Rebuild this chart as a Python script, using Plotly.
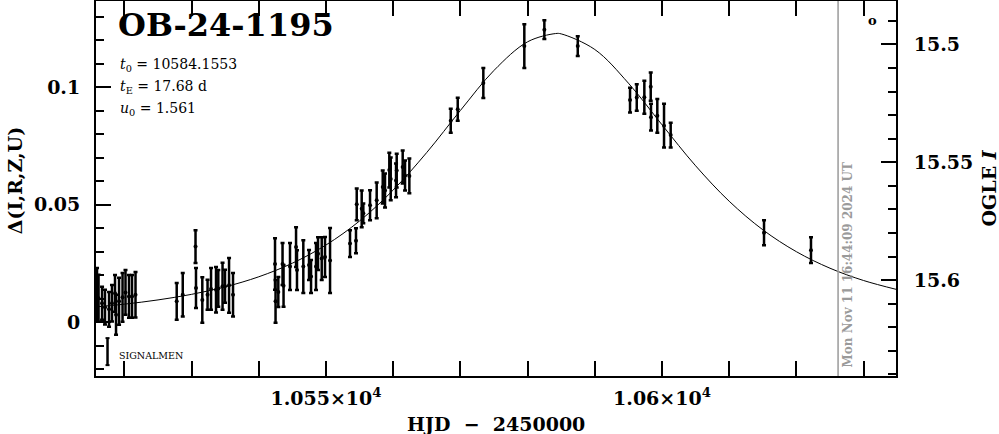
import plotly.graph_objects as go

# ---------------- data ----------------
hjd = [10515.92, 10516.15, 10516.67, 10517.11, 10517.71, 10518.15, 10518.60, 10518.75,
       10519.20, 10519.72, 10520.16, 10520.68, 10521.13, 10521.65,
       10527.78, 10528.68, 10530.58, 10530.65, 10531.59, 10532.37, 10532.89, 10533.63,
       10533.97, 10534.60, 10534.97, 10535.57, 10536.16,
       10542.41, 10542.49, 10542.90, 10543.53, 10543.68, 10544.64, 10545.54, 10545.68,
       10546.62, 10547.47, 10547.77, 10548.51, 10548.81, 10549.36, 10549.85, 10550.60,
       10553.57, 10554.46, 10554.57, 10555.31, 10555.55, 10556.55, 10557.54, 10558.44,
       10558.78, 10559.42, 10559.63, 10560.42, 10560.52, 10561.41, 10561.76, 10562.40,
       10568.56, 10569.60, 10573.41, 10579.51, 10582.49, 10587.46,
       10595.24, 10596.24, 10597.37, 10598.32, 10598.36, 10599.30, 10600.30, 10601.29,
       10615.18, 10622.17]
delta = [0.0121, 0.0102, 0.0081, 0.0064, 0.0055, 0.0081, 0.0123, 0.0032,
         0.0089, 0.0106, 0.0127, 0.0110, 0.0110, 0.0117,
         0.0089, 0.0117, 0.0322, 0.0146, 0.0095, 0.0117, 0.0142, 0.0138,
         0.0144, 0.0153, 0.0153, 0.0157, 0.0117,
         0.0248, 0.0089, 0.0129, 0.0248, 0.0155, 0.0237, 0.0320, 0.0222,
         0.0237, 0.0244, 0.0195, 0.0237, 0.0292, 0.0271, 0.0278, 0.0263,
         0.0335, 0.0347, 0.0502, 0.0483, 0.0464, 0.0498, 0.0519, 0.0576,
         0.0561, 0.0648, 0.0610, 0.0604, 0.0646, 0.0661, 0.0625, 0.0623,
         0.0858, 0.0907, 0.1019, 0.1176, 0.1246, 0.1176,
         0.0946, 0.0957, 0.0958, 0.1003, 0.0873, 0.0879, 0.0837, 0.0797,
         0.0381, 0.0307]
delta_err = [0.0110, 0.0100, 0.0070, 0.0074, 0.0074, 0.0078, 0.0078, 0.0085,
             0.0100, 0.0104, 0.0095, 0.0091, 0.0091, 0.0097,
             0.0078, 0.0093, 0.0070, 0.0085, 0.0097, 0.0064, 0.0089, 0.0097,
             0.0078, 0.0100, 0.0070, 0.0117, 0.0093,
             0.0110, 0.0091, 0.0064, 0.0089, 0.0089, 0.0100, 0.0085, 0.0085,
             0.0112, 0.0064, 0.0070, 0.0100, 0.0070, 0.0091, 0.0085, 0.0138,
             0.0057, 0.0053, 0.0068, 0.0078, 0.0042, 0.0064, 0.0076, 0.0070,
             0.0072, 0.0074, 0.0091, 0.0072, 0.0072, 0.0070, 0.0064, 0.0074,
             0.0051, 0.0049, 0.0064, 0.0093, 0.0040, 0.0042,
             0.0053, 0.0056, 0.0070, 0.0060, 0.0057, 0.0072, 0.0093, 0.0053,
             0.0053, 0.0055]

model_hjd = [10515, 10520, 10525, 10530, 10535, 10540, 10545, 10550, 10555, 10560,
             10565, 10570, 10575, 10580, 10584.16, 10585, 10590, 10595, 10600, 10605,
             10610, 10615, 10620, 10625, 10630, 10635]
model_delta = [0.00634, 0.00770, 0.00950, 0.01188, 0.01507, 0.01936, 0.02515, 0.03290,
               0.04314, 0.05630, 0.07232, 0.09019, 0.10725, 0.11943, 0.12294, 0.12279,
               0.11614, 0.10181, 0.08408, 0.06662, 0.05152, 0.03937, 0.03003, 0.02300,
               0.01776, 0.01389]

x_ticks = [10550, 10600]
x_ticktext = ["1.055×10<sup>4</sup>", "1.06×10<sup>4</sup>"]
y_ticks = [0, 0.05, 0.1]
y_ticktext = ["0", "0.05", "0.1"]
mag_ticks = [15.5, 15.55, 15.6]
mag_ticktext = ["15.5", "15.55", "15.6"]

x_title = "HJD\u00a0\u00a0−\u00a0\u00a02450000"
y_title = "Δ(I,R,Z,U)"
mag_title = "OGLE <i>I</i>"
event_name = "OB-24-1195"
param_lines = ["<i>t</i><sub>0</sub> = 10584.1553",
               "<i>t</i><sub>E</sub> = 17.68 d",
               "<i>u</i><sub>0</sub> = 1.561"]
legend_label = "SIGNALMEN"
now_hjd = 10626.2
now_label = "Mon Nov 11 16:44:09 2024 UT"

x_range = [10515.77, 10634.82]
y_range = [-0.0229, 0.1368]
mag_range = [15.6407, 15.4816]

# ---------------- figure ----------------
SERIF = "DejaVu Serif"
fig = go.Figure()

fig.add_trace(go.Scatter(
    x=model_hjd, y=model_delta, mode="lines", line=dict(color="black", width=1, shape="spline"),
    hoverinfo="skip", showlegend=False))

fig.add_trace(go.Scatter(
    x=hjd, y=delta, mode="markers",
    marker=dict(color="black", size=4),
    error_y=dict(type="data", array=delta_err, visible=True, color="black", thickness=2.5, width=2),
    showlegend=False, name=legend_label))

# invisible trace to anchor the right-hand magnitude axis
fig.add_trace(go.Scatter(x=[], y=[], yaxis="y2", showlegend=False))

fig.add_vline(x=now_hjd, line=dict(color="#9a9a9a", width=1.5))

axis_font = dict(family=SERIF, size=19, color="black", weight="bold")
tick_common = dict(showgrid=False, zeroline=False, showline=True, linecolor="black", linewidth=2,
                   ticks="inside", ticklen=15, tickwidth=2, tickcolor="black",
                   tickmode="array", tickfont=axis_font, automargin=False)

fig.update_layout(
    width=999, height=434,
    margin=dict(l=96, r=103, t=1, b=58, autoexpand=False),
    paper_bgcolor="white", plot_bgcolor="white",
    xaxis=dict(
        range=x_range, mirror="allticks", tickvals=x_ticks, ticktext=x_ticktext,
        ticklabelstandoff=4,
        minor=dict(ticks="inside", ticklen=8, tickwidth=2, tickcolor="black",
                   tick0=10500, dtick=10, showgrid=False),
        **tick_common),
    yaxis=dict(
        range=y_range, tickvals=y_ticks, ticktext=y_ticktext, ticklabelstandoff=10,
        minor=dict(ticks="inside", ticklen=8, tickwidth=2, tickcolor="black",
                   tick0=0, dtick=0.01, showgrid=False),
        **tick_common),
    yaxis2=dict(
        overlaying="y", side="right", anchor="x",
        range=mag_range, tickvals=mag_ticks, ticktext=mag_ticktext, ticklabelstandoff=12,
        minor=dict(ticks="inside", ticklen=8, tickwidth=2, tickcolor="black",
                   tick0=15.5, dtick=0.01, showgrid=False),
        **tick_common),
)

# axis titles as annotations (exact placement)
fig.add_annotation(xref="paper", yref="paper", x=0.5, y=-0.128, xanchor="center", yanchor="middle",
                   text=x_title, showarrow=False, font=axis_font)
fig.add_annotation(xref="paper", yref="paper", x=-0.101, y=0.52, xanchor="center", yanchor="middle",
                   text=y_title, textangle=-90, showarrow=False, font=axis_font)
fig.add_annotation(xref="paper", yref="paper", x=1.115, y=0.50, xanchor="center", yanchor="middle",
                   text=mag_title, textangle=-90, showarrow=False, font=axis_font)

# event name and fit parameters
fig.add_annotation(xref="paper", yref="paper", x=0.025, y=0.935, xanchor="left", yanchor="middle",
                   text=event_name, showarrow=False,
                   font=dict(family=SERIF, size=32, color="black", weight="bold"))
for i, line in enumerate(param_lines):
    fig.add_annotation(xref="paper", yref="paper", x=0.027, y=0.829 - i * 0.058,
                       xanchor="left", yanchor="middle", text=line, showarrow=False,
                       font=dict(family=SERIF, size=14, color="black"))

# top-right marker
fig.add_annotation(xref="paper", yref="paper", x=0.97, y=0.947, xanchor="center", yanchor="middle",
                   text="o", showarrow=False,
                   font=dict(family=SERIF, size=13, color="black", weight="bold"))

# legend entry: error-bar glyph + label
fig.add_shape(type="line", xref="paper", yref="paper", x0=0.0144, x1=0.0144, y0=0.029, y1=0.101,
              line=dict(color="black", width=2.5))
for yy in (0.029, 0.101):
    fig.add_shape(type="line", xref="paper", yref="paper", x0=0.0119, x1=0.0169, y0=yy, y1=yy,
                  line=dict(color="black", width=2))
fig.add_annotation(xref="paper", yref="paper", x=0.026, y=0.056, xanchor="left", yanchor="middle",
                   text=legend_label, showarrow=False,
                   font=dict(family=SERIF, size=9.5, color="black"))

# timestamp next to the "now" line
fig.add_annotation(x=now_hjd, xref="x", yref="paper", y=0.295, xanchor="left", yanchor="middle",
                   xshift=1, text=now_label, textangle=-90, showarrow=False,
                   font=dict(family=SERIF, size=12, color="#9a9a9a", weight="bold"))

fig.write_html("out.html", config={"displayModeBar": False},
               post_script="document.body.style.margin='0px';")
